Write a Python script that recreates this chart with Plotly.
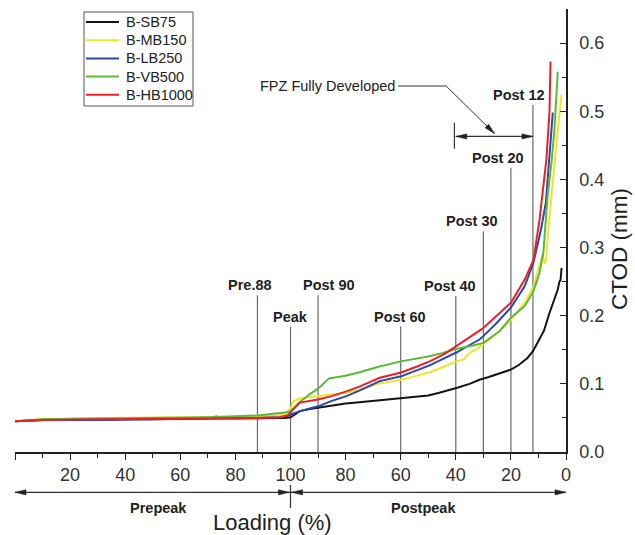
import numpy as np
import plotly.graph_objects as go

# ---------------- data (x = position on combined loading axis: 0-100 prepeak, 100-200 postpeak) -------------
series_names = ["B-SB75", "B-MB150", "B-LB250", "B-VB500", "B-HB1000"]
series_colors = ["#141414", "#eee62c", "#2c47a8", "#5cb83c", "#ec2024"]

sb75_x = [0, 5, 10, 20, 30, 40, 50, 60, 70, 80, 88, 94, 98, 100, 102, 103.4, 107, 110, 115, 120, 125, 130,
          135, 140, 145, 150, 154, 158, 160.2, 165, 168.6, 172, 176, 180, 183, 186, 188, 190, 192, 194, 195.8,
          197, 197.6, 198.0, 198.4]
sb75_y = [0.045, 0.046, 0.047, 0.047, 0.048, 0.048, 0.048, 0.049, 0.049, 0.049, 0.049, 0.049, 0.050, 0.051,
          0.056, 0.060, 0.063, 0.065, 0.068, 0.071, 0.073, 0.075, 0.077, 0.078, 0.080, 0.083, 0.087, 0.091,
          0.094, 0.100, 0.106, 0.110, 0.115, 0.121, 0.128, 0.138, 0.148, 0.162, 0.178, 0.204, 0.224, 0.238,
          0.250, 0.252, 0.270]

mb150_x = [0, 10, 30, 50, 70, 88, 96, 98.5, 100, 101, 103, 106, 110, 115, 120, 125, 130, 132.4, 136, 140.2,
           145, 150.5, 155, 160.2, 163, 165, 168, 170, 173, 176, 180, 185, 188.2, 190.4, 191.5, 192.3, 192.8,
           193.6, 194.7, 195.8, 197, 198.4]
mb150_y = [0.045, 0.048, 0.050, 0.050, 0.051, 0.052, 0.054, 0.056, 0.064, 0.0745, 0.078, 0.080, 0.082, 0.084,
           0.087, 0.091, 0.097, 0.101, 0.103, 0.106, 0.111, 0.117, 0.124, 0.133, 0.136, 0.146, 0.152, 0.158,
           0.168, 0.177, 0.194, 0.219, 0.243, 0.272, 0.290, 0.276, 0.284, 0.326, 0.375, 0.424, 0.473, 0.524]

lb250_x = [0, 10, 30, 50, 70, 73, 76, 88, 96, 99, 100, 103.4, 110, 115, 120.3, 125, 132.4, 140.2, 145, 150.5,
           155, 160.2, 165, 168.6, 170, 175, 180, 185, 188.2, 190.9, 192.7, 193.9, 195.2]
lb250_y = [0.045, 0.047, 0.047, 0.048, 0.049, 0.052, 0.050, 0.050, 0.051, 0.053, 0.055, 0.060, 0.067, 0.075,
           0.082, 0.090, 0.104, 0.111, 0.119, 0.127, 0.136, 0.146, 0.157, 0.165, 0.170, 0.190, 0.212, 0.243,
           0.278, 0.326, 0.366, 0.424, 0.498]

vb500_x = [0, 10, 30, 50, 70, 88, 96, 98, 100, 103, 107, 110, 114, 120, 125, 132, 140, 145, 150, 155, 160,
           167, 170, 176, 180, 185, 188.2, 190.4, 191.8, 193.3, 194.7, 195.8, 197]
vb500_y = [0.045, 0.048, 0.049, 0.050, 0.051, 0.0535, 0.0565, 0.058, 0.060, 0.072, 0.085, 0.093, 0.108, 0.112,
           0.117, 0.125, 0.133, 0.136, 0.140, 0.145, 0.151, 0.157, 0.160, 0.178, 0.197, 0.214, 0.236, 0.263,
           0.293, 0.375, 0.424, 0.473, 0.558]

hb1000_x = [0, 10, 30, 50, 70, 88, 96, 99, 100, 103.4, 110, 115, 120.3, 125, 132.4, 140.2, 145, 150.5, 156,
            160.2, 165, 168.6, 170, 175, 180, 185, 188.2, 190.4, 192.2, 192.9, 194, 194.4]
hb1000_y = [0.045, 0.047, 0.048, 0.048, 0.049, 0.050, 0.051, 0.054, 0.058, 0.0725, 0.077, 0.082, 0.089, 0.096,
            0.109, 0.1166, 0.124, 0.133, 0.144, 0.155, 0.168, 0.178, 0.182, 0.200, 0.219, 0.253, 0.282, 0.341,
            0.400, 0.430, 0.498, 0.573]

series_x = [sb75_x, mb150_x, lb250_x, vb500_x, hb1000_x]
series_y = [sb75_y, mb150_y, lb250_y, vb500_y, hb1000_y]

# x-axis tick labels (prepeak 0..100, postpeak 100..0)
x_tickvals = [0, 20, 40, 60, 80, 100, 120, 140, 160, 180, 200]
x_ticktext = ["", "20", "40", "60", "80", "100", "80", "60", "40", "20", "0"]

# stage markers
stage_labels = ["Pre.88", "Peak", "Post 90", "Post 60", "Post 40", "Post 30", "Post 20", "Post 12"]
stage_pos = [88, 100, 110, 140, 160, 170, 180, 188]
stage_top = [0.230, 0.184, 0.230, 0.184, 0.229, 0.324, 0.417, 0.509]
stage_label_shift = [-7, 0, 11, -1, -6, -11, -13, -14]

# FPZ range
fpz_start, fpz_end, fpz_level = 160, 188, 0.463

FONT = "Arial, Liberation Sans, sans-serif"
TXT = "#222222"

fig = go.Figure()
for name, xs, ys, col in zip(series_names, series_x, series_y, series_colors):
    fig.add_trace(go.Scatter(x=xs, y=ys, mode="lines", name=name, showlegend=False,
                             line=dict(color=col, width=2)))

shapes = []
annotations = []

# ---- legend box (drawn so its row spacing matches the reference) ----
plot_l, plot_t, plot_w, plot_h = 15, 9, 551, 443


def px_to_paper(px, py):
    return (px - plot_l) / plot_w, (plot_t + plot_h - py) / plot_h


lx0, ly0 = px_to_paper(84, 12)
lx1, ly1 = px_to_paper(193, 106)
shapes.append(dict(type="rect", xref="paper", yref="paper", x0=lx0, x1=lx1, y0=ly1, y1=ly0,
                   line=dict(color="#555555", width=1), fillcolor="white"))
for i, (name, col) in enumerate(zip(series_names, series_colors)):
    row_py = 22 + 18.2 * i
    a0, ry = px_to_paper(86, row_py)
    a1, _ = px_to_paper(119, row_py)
    tx, _ = px_to_paper(124, row_py)
    shapes.append(dict(type="line", xref="paper", yref="paper", x0=a0, x1=a1, y0=ry, y1=ry,
                       line=dict(color=col, width=2)))
    annotations.append(dict(x=tx, y=ry, xref="paper", yref="paper", text=name, showarrow=False,
                            xanchor="left", yanchor="middle",
                            font=dict(family=FONT, size=14.5, color=TXT)))

# stage vertical lines + labels
for lab, xp, top, sh in zip(stage_labels, stage_pos, stage_top, stage_label_shift):
    shapes.append(dict(type="line", xref="x", yref="y", x0=xp, x1=xp, y0=0, y1=top,
                       line=dict(color="#6a6a6a", width=1.2), layer="below"))
    annotations.append(dict(x=xp, y=top, xref="x", yref="y", text="<b>%s</b>" % lab, showarrow=False,
                            xanchor="center", yanchor="middle", xshift=sh, yshift=10,
                            font=dict(family=FONT, size=14.5, color=TXT)))


def head(xa, ya, dx, dy, xref="x", yref="y", L=11, W=2.6):
    """arrowhead at (xa, ya) pointing along (dx, dy) in screen pixels (y up)."""
    n = np.hypot(dx, dy)
    ux, uy = dx / n, dy / n
    px, py = -uy, ux
    bx, by = -L * ux, -L * uy
    p1 = (bx + W * px, by + W * py)
    p2 = (bx - W * px, by - W * py)
    path = "M0,0 L%.2f,%.2f L%.2f,%.2f Z" % (p1[0], p1[1], p2[0], p2[1])
    return dict(type="path", xref=xref, yref=yref, xsizemode="pixel", ysizemode="pixel",
                xanchor=xa, yanchor=ya, path=path, fillcolor="#222222",
                line=dict(color="#222222", width=0.5))


# FPZ annotation
fpz_text_x, fpz_text_y = 139, 0.537
fpz_bend_x = 156.5
fpz_tip_x, fpz_tip_y = 174.1, 0.467
annotations.append(dict(x=fpz_text_x, y=fpz_text_y, xref="x", yref="y", text="FPZ Fully Developed",
                        showarrow=False, xanchor="right", yanchor="middle", xshift=-1,
                        font=dict(family=FONT, size=14.5, color=TXT)))
shapes.append(dict(type="line", xref="x", yref="y", x0=fpz_text_x, x1=fpz_bend_x, y0=fpz_text_y,
                   y1=fpz_text_y, line=dict(color="#333333", width=1)))
shapes.append(dict(type="line", xref="x", yref="y", x0=fpz_bend_x, x1=fpz_tip_x, y0=fpz_text_y,
                   y1=fpz_tip_y, line=dict(color="#333333", width=1)))
shapes.append(head(fpz_tip_x, fpz_tip_y, 48.5, -48))
shapes.append(dict(type="line", xref="x", yref="y", x0=fpz_start, x1=fpz_end, y0=fpz_level,
                   y1=fpz_level, line=dict(color="#333333", width=1.2)))
shapes.append(dict(type="line", xref="x", yref="y", x0=fpz_start - 0.5, x1=fpz_start - 0.5,
                   y0=fpz_level - 0.018, y1=fpz_level + 0.02, line=dict(color="#333333", width=1.2)))
shapes.append(head(fpz_start, fpz_level, -1, 0))
shapes.append(head(fpz_end, fpz_level, 1, 0))

# Prepeak / Postpeak arrows below the axis
arr_y = -0.091
shapes.append(dict(type="line", xref="x", yref="paper", x0=0, x1=200, y0=arr_y, y1=arr_y,
                   line=dict(color="#333333", width=1.2)))
shapes.append(dict(type="line", xref="x", yref="paper", x0=100, x1=100, y0=-0.0745, y1=-0.1264,
                   line=dict(color="#333333", width=1.2)))
shapes.append(head(0, arr_y, -1, 0, yref="paper"))
shapes.append(head(99.6, arr_y, 1, 0, yref="paper"))
shapes.append(head(100.4, arr_y, -1, 0, yref="paper"))
shapes.append(head(200, arr_y, 1, 0, yref="paper"))
annotations.append(dict(x=52, y=-0.1264, xref="x", yref="paper", text="<b>Prepeak</b>", showarrow=False,
                        xanchor="center", yanchor="middle",
                        font=dict(family=FONT, size=14.5, color=TXT)))
annotations.append(dict(x=148.3, y=-0.1264, xref="x", yref="paper", text="<b>Postpeak</b>", showarrow=False,
                        xanchor="center", yanchor="middle",
                        font=dict(family=FONT, size=14.5, color=TXT)))
annotations.append(dict(x=93.3, y=-0.160, xref="x", yref="paper", text="Loading (%)", showarrow=False,
                        xanchor="center", yanchor="middle",
                        font=dict(family=FONT, size=22, color=TXT)))
annotations.append(dict(x=(619 - plot_l) / plot_w, y=0.458, xref="paper", yref="paper", text="CTOD (mm)",
                        showarrow=False, textangle=-90, xanchor="center", yanchor="middle",
                        font=dict(family=FONT, size=22.5, color=TXT)))

fig.update_layout(
    width=635, height=535, autosize=False,
    margin=dict(l=15, r=69, t=9, b=83),
    paper_bgcolor="white", plot_bgcolor="white",
    font=dict(family=FONT, color=TXT),
    showlegend=False,
    shapes=shapes, annotations=annotations,
    xaxis=dict(range=[0, 200], showline=True, linecolor="#222222", linewidth=1.5, mirror=False,
               ticks="outside", ticklen=6, tickwidth=1.3, tickcolor="#222222",
               tickmode="array", tickvals=x_tickvals, ticktext=x_ticktext,
               tickfont=dict(family=FONT, size=18, color="#333333"),
               showgrid=False, zeroline=False,
               minor=dict(tickmode="array", tickvals=[10, 30, 50, 70, 90, 110, 130, 150, 170, 190],
                          ticks="outside", ticklen=4, tickwidth=1.2, tickcolor="#222222", showgrid=False)),
    yaxis=dict(range=[0, 0.65], side="right", showline=True, linecolor="#222222", linewidth=1.5,
               ticks="inside", ticklen=6, tickwidth=1.3, tickcolor="#222222",
               tickmode="array", tickvals=[0, 0.1, 0.2, 0.3, 0.4, 0.5, 0.6], tickformat=".1f",
               tickfont=dict(family=FONT, size=18, color="#333333"), ticklabelstandoff=8,
               showgrid=False, zeroline=False,
               minor=dict(tickmode="array", tickvals=[0.05, 0.15, 0.25, 0.35, 0.45, 0.55],
                          ticks="inside", ticklen=4, tickwidth=1.2, tickcolor="#222222", showgrid=False)),
)

fig.write_html("out.html")
